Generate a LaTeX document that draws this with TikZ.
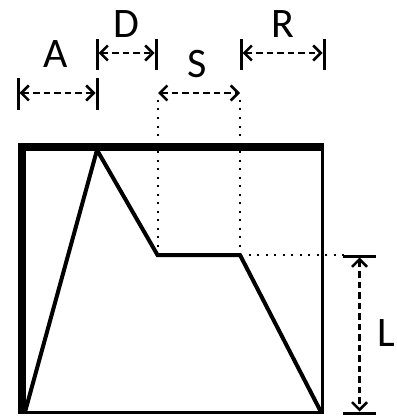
\documentclass[tikz,border=0pt]{standalone}
\usepackage{fontspec}
\setmainfont{Carlito}
\usetikzlibrary{arrows.meta}
\begin{document}
\begin{tikzpicture}[x=1pt,y=-1pt,
  thickedge/.style={line width=8pt},
  thinedge/.style={line width=3pt},
  envelope/.style={line width=4pt,line join=miter},
  dimbar/.style={line width=3pt},
  dimarrow/.style={line width=2.3pt,dash pattern=on 6.5pt off 4pt,
    {Straight Barb[length=7.5pt,width=15pt,line width=2.5pt]}-{Straight Barb[length=7.5pt,width=15pt,line width=2.5pt]}},
  guide/.style={line width=2pt,dash pattern=on 2pt off 6.5pt},
  lbl/.style={font=\fontsize{42}{42}\selectfont,inner sep=0pt}]
\useasboundingbox (0,0) rectangle (396,417);
% box
\coordinate (tl) at (22,146.5);
\coordinate (tr) at (322,146.5);
\coordinate (br) at (322,412);
\coordinate (bl) at (22,412);
\draw[thinedge] (tr) -- (br) -- (bl);
\draw[thickedge] (22,413.5) -- (22,146.5) -- (323.5,146.5);
% envelope
\coordinate (e0) at (25,412);
\coordinate (e1) at (97,150);
\coordinate (e2) at (157.5,255);
\coordinate (e3) at (240,255);
\coordinate (e4) at (321,412);
\draw[envelope] (e0) -- (e1) -- (e2) -- (e3) -- (e4);
% guides
\coordinate (g1) at (157.5,100);
\coordinate (g2) at (240,100);
\coordinate (g3) at (344,255);
\draw[guide] (g1) -- (e2);
\draw[guide] (g2) -- (e3);
\draw[guide] (e3) -- (g3);
% A
\coordinate (a1t) at (18,78); \coordinate (a1b) at (18,110);
\coordinate (a2t) at (97,78); \coordinate (a2b) at (97,110);
\draw[dimbar] (a1t) -- (a1b);
\draw[dimbar] (a2t) -- (a2b);
\coordinate (aL) at (19.5,93); \coordinate (aR) at (95.5,93);
\draw[dimarrow] (aL) -- (aR);
\node[lbl] (A) at (56,54) {A};
% D
\coordinate (d1t) at (97,39); \coordinate (d1b) at (97,70);
\coordinate (d2t) at (156,39); \coordinate (d2b) at (156,70);
\draw[dimbar] (d1t) -- (d1b);
\draw[dimbar] (d2t) -- (d2b);
\coordinate (dL) at (98.5,53); \coordinate (dR) at (154.5,53);
\draw[dimarrow] (dL) -- (dR);
\node[lbl] (D) at (126,24) {D};
% S
\coordinate (sL) at (158,93); \coordinate (sR) at (240,93);
\draw[dimarrow] (sL) -- (sR);
\node[lbl] (S) at (197,64) {S};
% R
\coordinate (r1t) at (241,39); \coordinate (r1b) at (241,70);
\coordinate (r2t) at (324,39); \coordinate (r2b) at (324,70);
\draw[dimbar] (r1t) -- (r1b);
\draw[dimbar] (r2t) -- (r2b);
\coordinate (rL) at (242.5,53); \coordinate (rR) at (322.5,53);
\draw[dimarrow] (rL) -- (rR);
\node[lbl] (R) at (283,24) {R};
% L
\coordinate (l1l) at (343,256); \coordinate (l1r) at (376,256);
\coordinate (l2l) at (343,413); \coordinate (l2r) at (376,413);
\draw[dimbar] (l1l) -- (l1r);
\draw[dimbar] (l2l) -- (l2r);
\coordinate (lT) at (359.5,257.5); \coordinate (lB) at (359.5,411.5);
\draw[dimarrow] (lT) -- (lB);
\node[lbl] (L) at (386,333) {L};
\end{tikzpicture}
\end{document}
